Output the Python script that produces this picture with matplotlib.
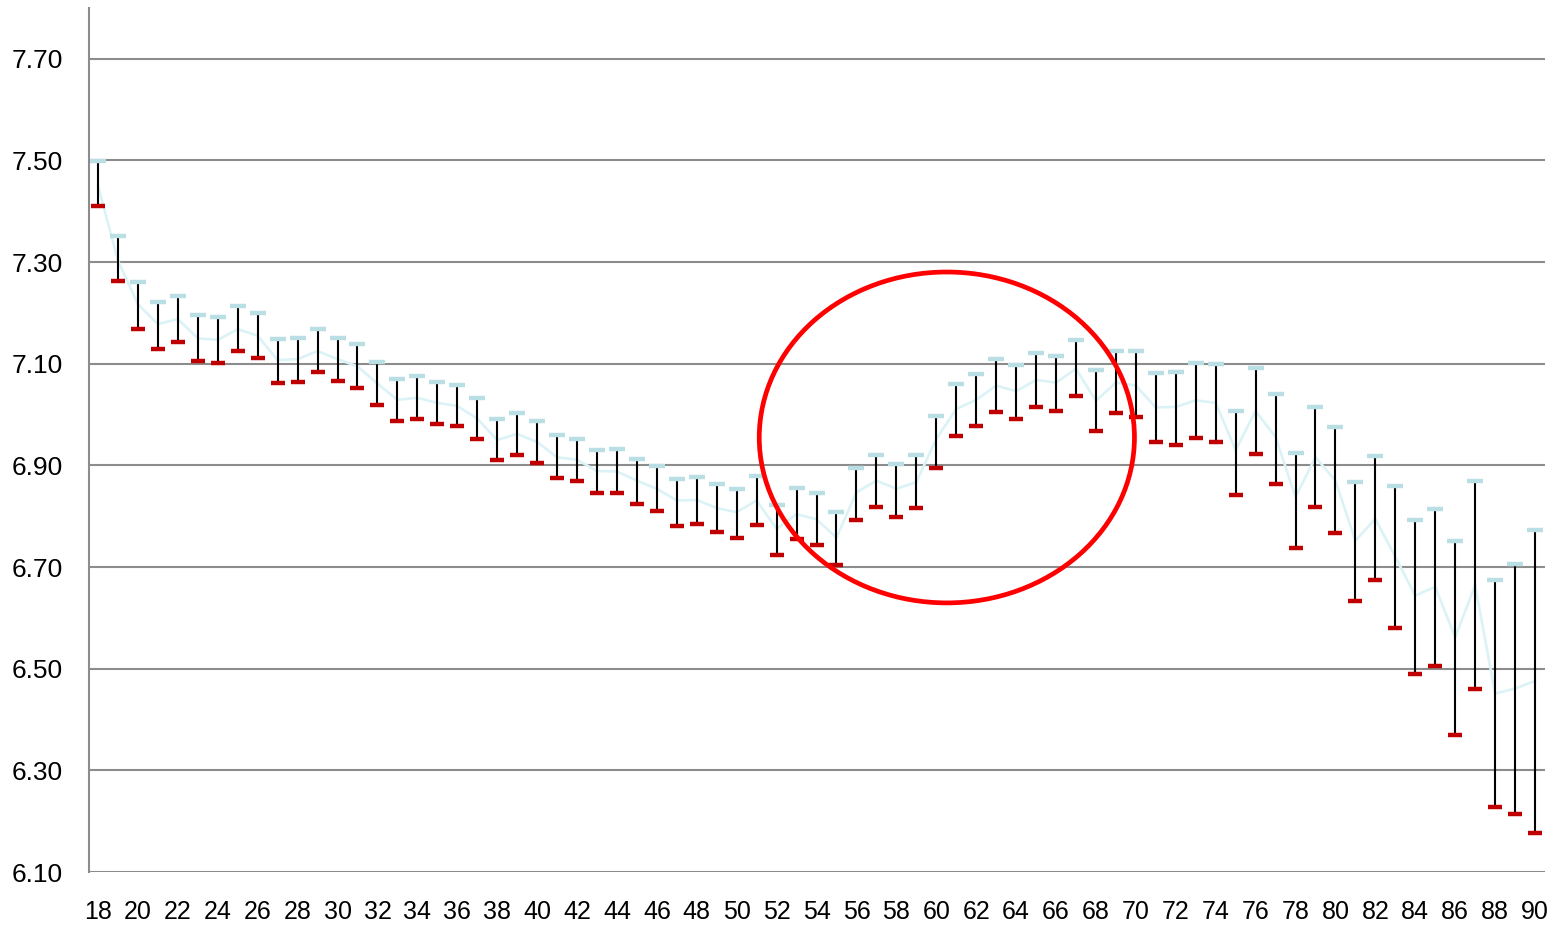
import numpy as np
import matplotlib
matplotlib.use("Agg")
import matplotlib.pyplot as plt
from matplotlib.patches import Ellipse

# --- Daten: Hoch / Tief / Schluss je Alter ---
ages = list(range(18, 91))

high = [7.498, 7.352, 7.261, 7.222, 7.234, 7.196, 7.192, 7.214, 7.199, 7.149,
        7.150, 7.168, 7.151, 7.138, 7.103, 7.070, 7.075, 7.064, 7.059, 7.033,
        6.992, 7.004, 6.988, 6.959, 6.952, 6.931, 6.932, 6.912, 6.898, 6.874,
        6.878, 6.864, 6.854, 6.879, 6.823, 6.855, 6.846, 6.808, 6.895, 6.921,
        6.903, 6.920, 6.998, 7.060, 7.079, 7.109, 7.097, 7.121, 7.116, 7.147,
        7.087, 7.126, 7.126, 7.082, 7.084, 7.101, 7.099, 7.007, 7.092, 7.040,
        6.924, 7.014, 6.975, 6.867, 6.918, 6.859, 6.793, 6.815, 6.752, 6.870,
        6.674, 6.706, 6.772]

low = [7.410, 7.262, 7.169, 7.129, 7.142, 7.105, 7.102, 7.125, 7.111, 7.062,
       7.064, 7.083, 7.067, 7.053, 7.019, 6.987, 6.992, 6.982, 6.977, 6.951,
       6.911, 6.920, 6.904, 6.875, 6.869, 6.845, 6.845, 6.825, 6.810, 6.781,
       6.784, 6.768, 6.758, 6.782, 6.723, 6.756, 6.744, 6.705, 6.792, 6.818,
       6.799, 6.817, 6.895, 6.957, 6.977, 7.006, 6.992, 7.014, 7.008, 7.036,
       6.968, 7.003, 6.995, 6.947, 6.941, 6.953, 6.946, 6.842, 6.922, 6.864,
       6.738, 6.819, 6.767, 6.633, 6.674, 6.581, 6.490, 6.505, 6.370, 6.460,
       6.228, 6.215, 6.176]

close = [7.450, 7.303, 7.217, 7.178, 7.188, 7.150, 7.147, 7.168, 7.155, 7.107,
         7.109, 7.125, 7.109, 7.095, 7.061, 7.029, 7.033, 7.023, 7.017, 6.992,
         6.950, 6.962, 6.946, 6.916, 6.911, 6.889, 6.888, 6.870, 6.854, 6.831,
         6.832, 6.816, 6.808, 6.831, 6.775, 6.804, 6.794, 6.758, 6.847, 6.870,
         6.854, 6.867, 6.952, 7.011, 7.029, 7.057, 7.046, 7.068, 7.063, 7.090,
         7.027, 7.063, 7.057, 7.014, 7.015, 7.028, 7.023, 6.930, 7.007, 6.956,
         6.838, 6.916, 6.870, 6.752, 6.795, 6.720, 6.644, 6.661, 6.562, 6.664,
         6.451, 6.461, 6.476]

y_ticks = [6.10, 6.30, 6.50, 6.70, 6.90, 7.10, 7.30, 7.50, 7.70]
x_ticks = list(range(18, 91, 2))

# Hervorgehobener Bereich (Alter ~52-70)
focus_center = (60.53, 6.955)
focus_width = 18.8
focus_height = 0.651

plt.rcParams['font.family'] = ['Liberation Sans', 'DejaVu Sans']

fig = plt.figure(figsize=(15.54, 9.26), dpi=100)
ax = fig.add_axes([0.0573, 0.0583, 0.9369, 0.9331])

# Schlusskurs als blasse Linie im Hintergrund
ax.plot(ages, close, color='#dbf3f6', lw=1.9, zorder=2)
# Spanne Hoch-Tief
ax.vlines(ages, low, high, color='black', lw=1.5, zorder=3)
ax.plot(ages, high, ls='none', marker='_', ms=11, mew=3.2,
        color='#b9dfe4', zorder=4)
ax.plot(ages, low, ls='none', marker='_', ms=9.5, mew=3.2,
        color='#c00000', zorder=4)

ax.add_patch(Ellipse(focus_center, focus_width, focus_height, fill=False,
                     edgecolor='#ff0000', lw=3.4, zorder=5))

ax.set_xlim(17.55, 90.5)
ax.set_ylim(6.10, 7.80)
ax.set_yticks(y_ticks)
ax.set_yticklabels([f"{v:.2f}" for v in y_ticks], fontsize=19)
ax.set_xticks(x_ticks)
ax.set_xticklabels([str(v) for v in x_ticks], fontsize=18)
ax.tick_params(axis='y', length=0, pad=19)
ax.tick_params(axis='x', length=0, pad=20)

ax.grid(axis='y', color='#8c8c8c', lw=1.5, zorder=1)
ax.set_axisbelow(True)
for side in ('top', 'right', 'bottom'):
    ax.spines[side].set_visible(False)
ax.spines['left'].set_color('#8c8c8c')
ax.spines['left'].set_linewidth(1.5)

fig.savefig('out.png', dpi=100)
